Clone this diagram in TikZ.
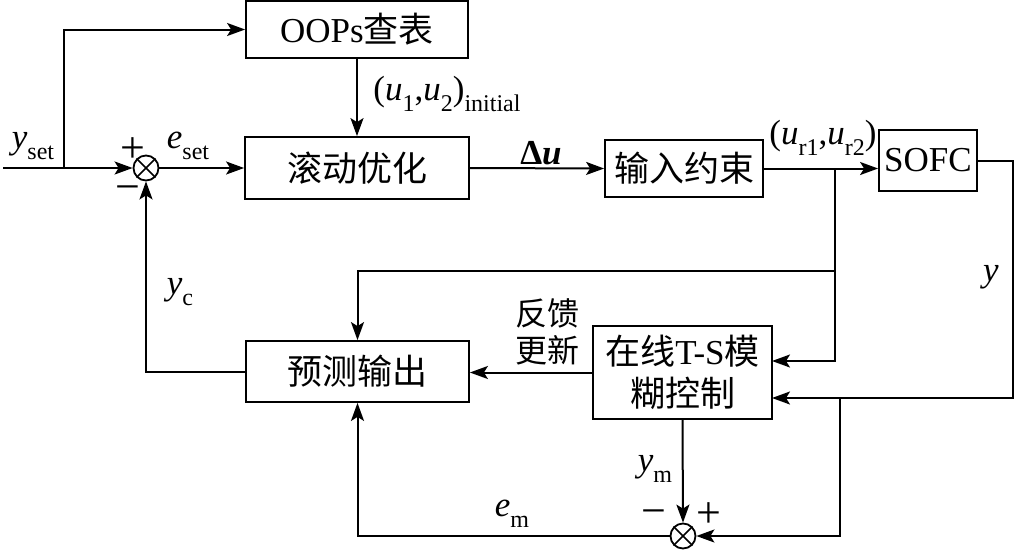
\documentclass[tikz,border=0pt]{standalone}
\usepackage{fontspec}
\setmainfont{Liberation Serif}
\newfontfamily\cjk{Noto Sans CJK SC}
\usetikzlibrary{arrows.meta,calc}
\newcommand{\lsub}[1]{\raisebox{-0.32em}{\fontsize{24}{26}\selectfont #1}}
\tikzset{
  blk/.style={draw, line width=1.8pt, inner sep=0pt, font=\fontsize{35}{40}\selectfont},
  sumc/.style={draw, circle, line width=1.8pt, minimum size=25pt, inner sep=0pt},
  conn/.style={line width=2pt, -{Stealth[length=18pt,width=13pt,inset=4pt]}},
  lbl/.style={font=\fontsize{35}{40}\selectfont, inner sep=0pt},
  sgn/.style={font=\fontsize{44}{46}\selectfont, inner sep=0pt}
}
\begin{document}
\begin{tikzpicture}[x=1pt,y=-1pt]
\useasboundingbox (0,0) rectangle (1018,550);
% blocks
\node[blk, minimum width=222pt, minimum height=57pt] (oops) at (357,29.5) {OOPs{\cjk 查表}};
\node[blk, minimum width=224pt, minimum height=62pt] (roll) at (357,168) {\cjk 滚动优化};
\node[blk, minimum width=158pt, minimum height=57pt] (cons) at (684,168.5) {\cjk 输入约束};
\node[blk, minimum width=98pt, minimum height=61pt] (sofc) at (928,160.5) {SOFC};
\node[blk, minimum width=179pt, minimum height=93pt, align=center, font=\fontsize{35}{42}\selectfont] (ts) at (682.5,372.5) {{\cjk 在线}T-S{\cjk 模}\\{\cjk 糊控制}};
\node[blk, minimum width=223pt, minimum height=61pt] (pred) at (357.5,371.5) {\cjk 预测输出};
% sum junctions
\node[sumc] (sum1) at (146,168) {};
\draw[line width=1.5pt] (sum1.45) -- (sum1.225) (sum1.135) -- (sum1.315);
\node[sumc] (sum2) at (683,536) {};
\draw[line width=1.5pt] (sum2.45) -- (sum2.225) (sum2.135) -- (sum2.315);
% coordinates
\coordinate (in) at (3,168);
\coordinate (b1) at (64,168);
\coordinate (b2) at (835,168);
\coordinate (b3) at (835,271);
\coordinate (tsin1) at (772,361);
\coordinate (tsin2) at (772,398);
\coordinate (c1) at (1013,398);
\coordinate (b4) at (840,398);
% connectors
\draw[conn] (in) -- (sum1.west);
\draw[conn] (b1) |- (oops.west);
\draw[conn] (sum1.east) -- (roll.west);
\draw[conn] (oops.south) -- (roll.north);
\draw[conn] (roll.east) -- (cons.west);
\draw[conn] (cons.east) -- (cons.east -| sofc.west);
\draw[conn] (b2) |- (tsin1);
\draw[conn] (b3) -| (pred.north);
\draw[conn] (sofc.east) -| (c1) -- (tsin2);
\draw[conn] (b4) |- (sum2.east);
\draw[conn] (ts.south) -- (sum2.north);
\draw[conn] (sum2.west) -| (pred.south);
\draw[conn] (ts.west) -- (ts.west -| pred.east);
\draw[conn] (pred.west) -| (sum1.south);
% labels
\node[lbl] (lyset) at (33,146) {\textit{y}\lsub{set}};
\node[lbl] (leset) at (188,146) {\textit{e}\lsub{set}};
\node[sgn] (p1) at (133,150) {+};
\node[sgn] (m1) at (128,194) {−};
\node[lbl] (lu) at (447,94) {(\textit{u}\lsub{1},\textit{u}\lsub{2})\lsub{initial}};
\node[lbl] (ldu) at (541,153) {\textbf{Δ\textit{u}}};
\node[lbl] (lur) at (823,138) {(\textit{u}\lsub{r1},\textit{u}\lsub{r2})};
\node[lbl] (ly) at (991,277) {\textit{y}};
\node[lbl] (lyc) at (180,292) {\textit{y}\lsub{c}};
\node[lbl, align=center, font=\fontsize{32}{37}\selectfont\cjk] (lfb) at (547,332) {反馈\\更新};
\node[lbl] (lym) at (655,469) {\textit{y}\lsub{m}};
\node[lbl] (lem) at (512,514) {\textit{e}\lsub{m}};
\node[sgn] (m2) at (654,518) {−};
\node[sgn] (p2) at (709,515) {+};
\end{tikzpicture}
\end{document}
